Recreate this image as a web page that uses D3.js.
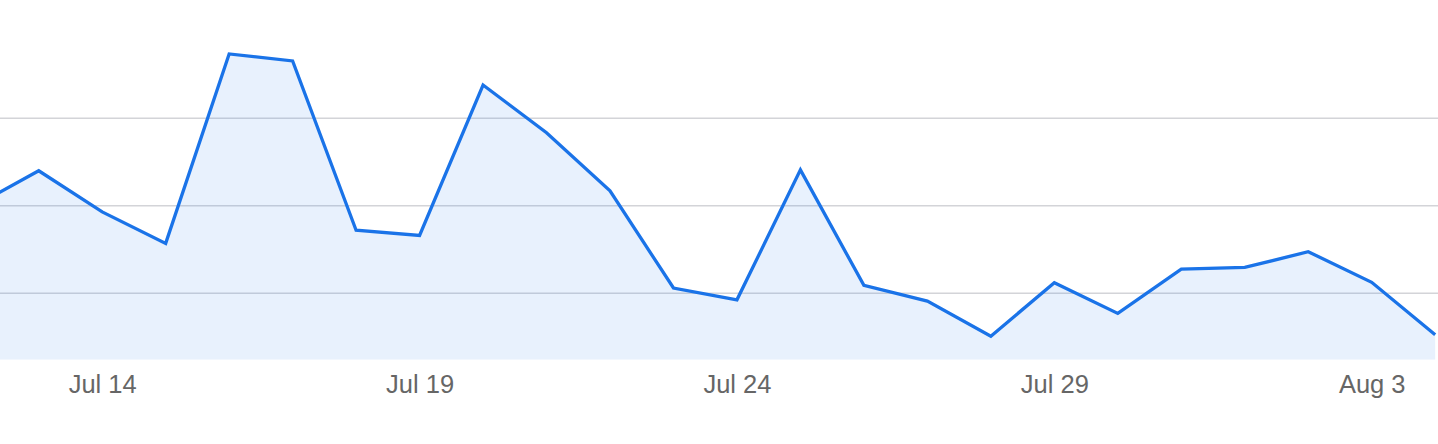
<!DOCTYPE html>
<html>
<head>
<meta charset="utf-8">
<script src="https://cdn.jsdelivr.net/npm/d3@7"></script>
<style>
  html, body { margin: 0; padding: 0; background: #fff; }
  svg { display: block; }
</style>
</head>
<body>
<svg id="chart" width="1438" height="444"></svg>
<script>
// Data
const dates = [
  "2024-07-12","2024-07-13","2024-07-14","2024-07-15","2024-07-16","2024-07-17",
  "2024-07-18","2024-07-19","2024-07-20","2024-07-21","2024-07-22","2024-07-23",
  "2024-07-24","2024-07-25","2024-07-26","2024-07-27","2024-07-28","2024-07-29",
  "2024-07-30","2024-07-31","2024-08-01","2024-08-02","2024-08-03","2024-08-04"
];
const values = [
  20.0, 24.0, 19.3, 15.7, 37.35, 36.55,
  17.2, 16.6, 33.8, 28.35, 21.7, 10.6,
  9.25, 24.1, 10.9, 9.1, 5.1, 11.2,
  7.7, 12.75, 12.95, 14.75, 11.25, 5.25
];
const tickDates = ["2024-07-14","2024-07-19","2024-07-24","2024-07-29","2024-08-03"];
const tickLabels = ["Jul 14","Jul 19","Jul 24","Jul 29","Aug 3"];
const gridValues = [10, 20, 30];

const parse = d3.utcParse("%Y-%m-%d");
const data = dates.map((d, i) => ({ date: parse(d), value: values[i] }));

const svg = d3.select("#chart");
const W = 1438, H = 444;

const x = d3.scaleUtc()
  .domain([parse("2024-07-14"), parse("2024-08-03")])
  .range([102.2, 1371.7]);

const y = d3.scaleLinear()
  .domain([2.41, 39.5])
  .range([359.7, 35.1]);

svg.append("defs").append("clipPath").attr("id", "clip")
  .append("rect").attr("x", 0).attr("y", 0).attr("width", W).attr("height", 359.7);

// Gridlines
svg.append("g")
  .selectAll("line")
  .data(gridValues)
  .join("line")
  .attr("x1", 0).attr("x2", W)
  .attr("y1", d => y(d)).attr("y2", d => y(d))
  .attr("stroke", "#d3d4d8")
  .attr("stroke-width", 1.7);

const plot = svg.append("g").attr("clip-path", "url(#clip)");

const area = d3.area()
  .x(d => x(d.date))
  .y0(y(2.41))
  .y1(d => y(d.value));

const line = d3.line()
  .x(d => x(d.date))
  .y(d => y(d.value));

plot.append("path")
  .datum(data)
  .attr("d", area)
  .attr("fill", "#1a73e8")
  .attr("fill-opacity", 0.1);

plot.append("path")
  .datum(data)
  .attr("d", line)
  .attr("fill", "none")
  .attr("stroke", "#1a73e8")
  .attr("stroke-width", 3.3)
  .attr("stroke-linejoin", "miter");

// X axis labels
const xAxis = d3.axisBottom(x)
  .tickValues(tickDates.map(parse))
  .tickFormat((d, i) => tickLabels[i])
  .tickSize(0)
  .tickPadding(0);

const gx = svg.append("g")
  .attr("transform", "translate(0,375)")
  .call(xAxis);
gx.select(".domain").remove();
gx.selectAll("text")
  .attr("dy", "0.71em")
  .attr("fill", "#666666")
  .style("font-family", "'Liberation Sans', Arial, Helvetica, sans-serif")
  .style("font-size", "25.5px");
</script>
</body>
</html>
